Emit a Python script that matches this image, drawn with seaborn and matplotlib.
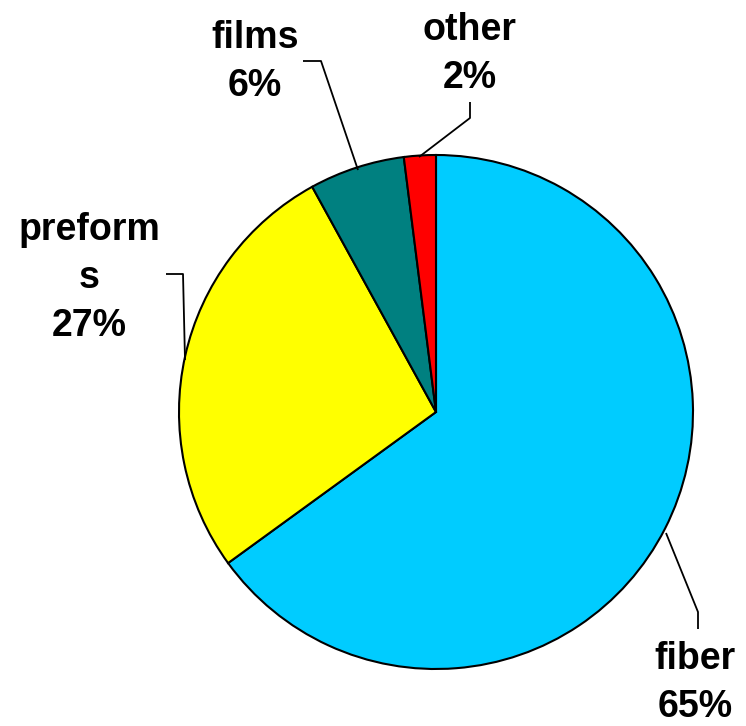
import matplotlib
matplotlib.use("Agg")
import matplotlib.pyplot as plt
import seaborn as sns

categories = ["fiber", "preforms", "films", "other"]
label_text = ["fiber", "preform\ns", "films", "other"]
values = [65, 27, 6, 2]
colors = ["#00CCFF", "#FFFF00", "#008080", "#FF0000"]

sns.set_style("white")
plt.rcParams['font.family'] = ['Liberation Sans', 'DejaVu Sans']

W, H = 746, 726
fig = plt.figure(figsize=(W / 100, H / 100), dpi=100)
ax = fig.add_axes([0, 0, 1, 1])

def Y(y):
    return H - y

cx, cy, r = 436, 412, 257
ax.pie(values, colors=colors, startangle=90, counterclock=False,
       center=(cx, Y(cy)), radius=r,
       wedgeprops=dict(edgecolor="black", linewidth=1.5))

ax.set_xlim(0, W)
ax.set_ylim(0, H)
ax.set_aspect("equal")
ax.axis("off")

# leader lines (pixel coords)
leaders = [
    [(666, 533), (698, 612), (698, 629)],
    [(185, 360), (183, 274), (166, 274)],
    [(358, 170), (321, 61), (303, 61)],
    [(419, 157), (470, 118), (470, 102)],
]
for pts in leaders:
    ax.plot([p[0] for p in pts], [Y(p[1]) for p in pts], color="black", lw=1.3,
            solid_capstyle="butt")

label_pos = [(695, 683), (89, 278), (255, 62), (470, 54)]
for name, v, (x, y) in zip(label_text, values, label_pos):
    ax.text(x, Y(y), f"{name}\n{v}%", ha="center", va="center",
            fontsize=27, fontweight="bold", linespacing=1.42, color="black")

fig.savefig("out.png", dpi=100)
